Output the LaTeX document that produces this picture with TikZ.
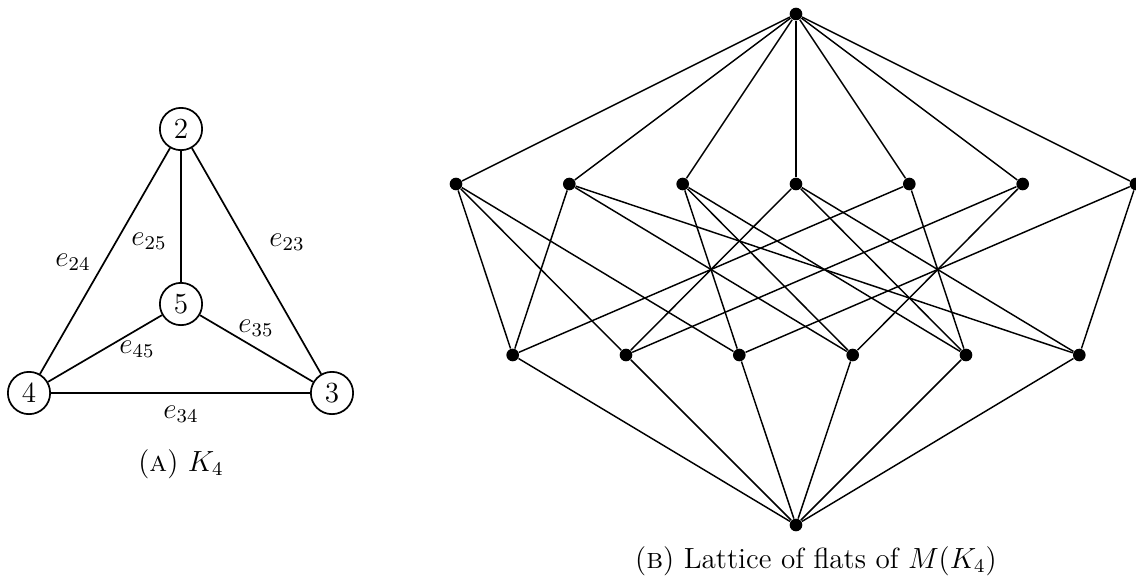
\documentclass[12pt,tikz,border=0pt]{standalone}
\begin{document}
\begin{tikzpicture}[x=0.4115pt,y=-0.4115pt,
  vtx/.style={circle,draw,line width=0.7pt,minimum size=17.4pt,inner sep=0pt},
  kedge/.style={line width=0.7pt},
  dot/.style={circle,fill,inner sep=0pt,minimum size=5.2pt},
  ledge/.style={line width=0.6pt},
  elab/.style={inner sep=0pt},
  capt/.style={anchor=base,inner sep=0pt}]
\useasboundingbox (0,0) rectangle (1136,578);
% ---- (a) K4 ----
\node[vtx] (v2) at (181,129) {2};
\node[vtx] (v5) at (181,304) {5};
\node[vtx] (v4) at (29,393) {4};
\node[vtx] (v3) at (332,393) {3};
\draw[kedge] (v2) -- (v5);
\draw[kedge] (v2) -- (v4);
\draw[kedge] (v2) -- (v3);
\draw[kedge] (v5) -- (v4);
\draw[kedge] (v5) -- (v3);
\draw[kedge] (v4) -- (v3);
\node[elab] (l24) at (73,262) {$e_{24}$};
\node[elab] (l25) at (149,241) {$e_{25}$};
\node[elab] (l23) at (287,242) {$e_{23}$};
\node[elab] (l35) at (256,328) {$e_{35}$};
\node[elab] (l45) at (137,349) {$e_{45}$};
\node[elab] (l34) at (181,414) {$e_{34}$};
\node[capt] (capa) at (181,471) {(\textsc{a})~$K_4$};
% ---- (b) lattice ----
\node[dot] (t) at (796,14) {};
\foreach \i/\x in {1/456,2/569.3,3/682.7,4/796,5/909.3,6/1022.7,7/1136}
  \node[dot] (a\i) at (\x,184) {};
\foreach \i/\x in {1/512.7,2/626,3/739.3,4/852.7,5/966,6/1079.3}
  \node[dot] (b\i) at (\x,355) {};
\node[dot] (z) at (796,525) {};
\foreach \i in {1,...,7} \draw[ledge] (t) -- (a\i);
\foreach \i in {1,...,6} \draw[ledge] (z) -- (b\i);
\foreach \a/\b in {1/1,1/2,1/3, 2/1,2/4,2/6, 3/3,3/4,3/5, 4/2,4/5,4/6, 5/1,5/5, 6/2,6/4, 7/3,7/6}
  \draw[ledge] (a\a) -- (b\b);
\node[capt] (capb) at (816,568) {(\textsc{b})~Lattice of flats of $M(K_4)$};
\end{tikzpicture}
\end{document}
